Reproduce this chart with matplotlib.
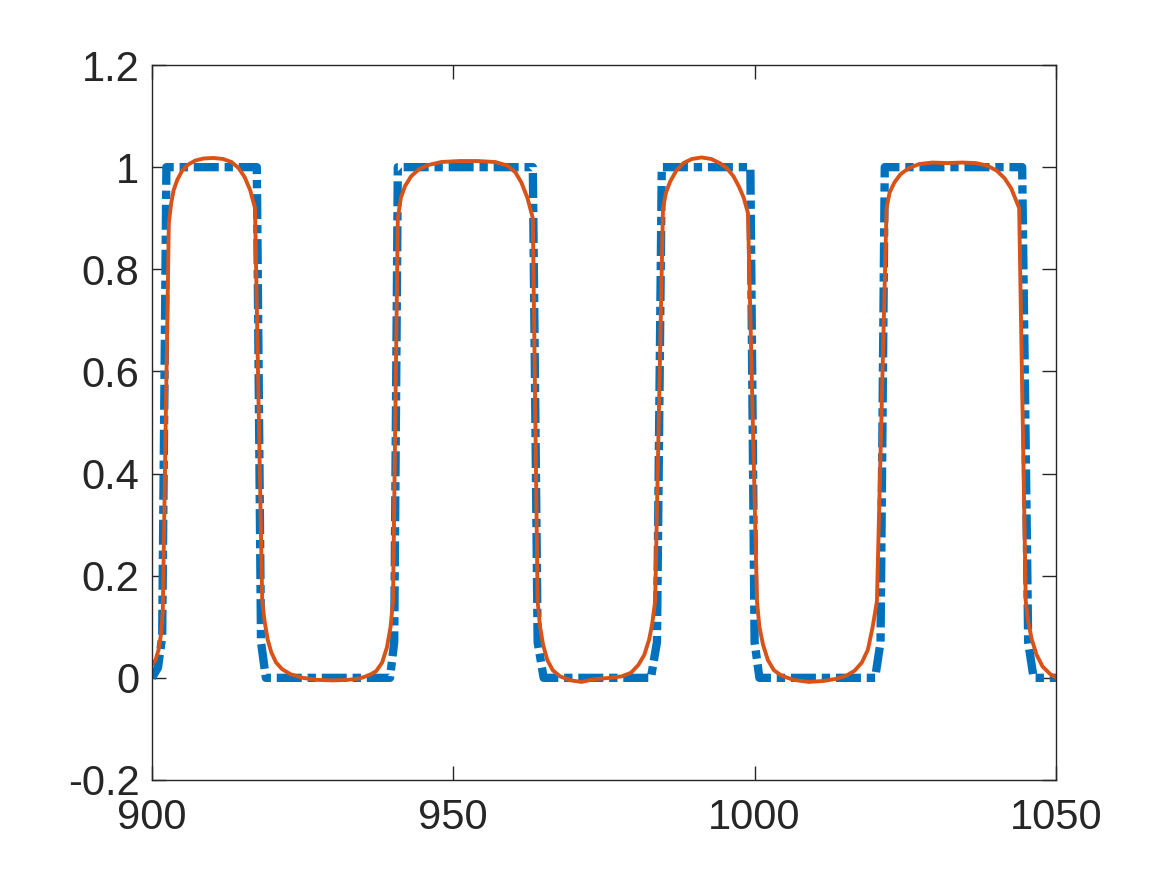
import matplotlib
matplotlib.use("Agg")
import matplotlib.pyplot as plt

# square-ish reference signal (blue, dash-dot)
x_ref = [900, 901, 901.7, 902.4, 917.4, 918.1, 918.9,
         939.5, 940.2, 940.8, 963.2, 964.0, 965.0,
         982.8, 983.8, 984.6, 999.3, 1000.0, 1000.8,
         1020.0, 1020.9, 1021.6, 1044.4, 1045.4, 1046.3, 1050]
y_ref = [0, 0.02, 0.08, 1, 1, 0.07, 0,
         0, 0.07, 1, 1, 0.07, 0,
         0, 0.07, 1, 1, 0.07, 0,
         0, 0.07, 1, 1, 0.07, 0, 0]

# smooth response (orange)
x_resp = [900, 900.6, 901.1, 901.5, 901.8,
          902.8, 903.2, 903.6, 904.2, 905.0, 906.0, 907.2, 908.6, 910.2, 911.8,
          913.2, 914.4, 915.4, 916.3, 917.1,
          918.3, 918.7, 919.2, 919.8, 920.6, 921.6, 923.0, 925.0, 927.5, 930.0,
          932.5, 934.5, 936.0, 937.2, 938.2, 939.0, 939.6, 940.0,
          940.8, 941.3, 942.0, 943.0, 944.2, 945.8, 948.0, 951.0, 954.0, 957.0,
          959.0, 960.3, 961.3, 962.3, 963.2,
          964.0, 964.4, 964.9, 965.6, 966.5, 967.7, 969.5, 971.3, 972.8, 974.0,
          976.0, 978.0, 979.5, 980.7, 981.7, 982.5, 983.0, 983.5,
          984.8, 985.3, 986.0, 987.0, 988.2, 989.6, 991.2, 992.8, 994.2, 995.4,
          996.5, 997.4, 998.2, 998.9,
          1000.4, 1000.8, 1001.4, 1002.2, 1003.2, 1004.5, 1006.5, 1009.0, 1011.5,
          1013.5, 1015.2, 1016.6, 1017.8, 1018.8, 1019.6, 1020.3,
          1021.9, 1022.4, 1023.2, 1024.2, 1025.6, 1027.3, 1029.5, 1032.0, 1034.5,
          1036.7, 1038.6, 1040.2, 1041.5, 1042.6, 1043.9,
          1045.0, 1045.4, 1046.0, 1046.8, 1047.8, 1049.0, 1050]
y_resp = [0.025, 0.035, 0.055, 0.085, 0.13,
          0.89, 0.93, 0.955, 0.975, 0.993, 1.005, 1.013, 1.017, 1.018, 1.016,
          1.01, 0.998, 0.98, 0.955, 0.92,
          0.15, 0.11, 0.075, 0.05, 0.03, 0.017, 0.007, 0.0, -0.004, -0.005,
          -0.004, -0.001, 0.005, 0.013, 0.03, 0.06, 0.1, 0.15,
          0.9, 0.94, 0.963, 0.982, 0.995, 1.004, 1.01, 1.012, 1.012, 1.01,
          1.003, 0.99, 0.97, 0.94, 0.9,
          0.15, 0.1, 0.065, 0.035, 0.015, 0.003, -0.005, -0.008, -0.004, -0.002,
          0.0, 0.003, 0.01, 0.025, 0.045, 0.075, 0.105, 0.15,
          0.92, 0.95, 0.972, 0.993, 1.008, 1.016, 1.019, 1.016, 1.008, 0.998,
          0.982, 0.962, 0.94, 0.91,
          0.15, 0.1, 0.065, 0.035, 0.015, 0.004, -0.004, -0.008, -0.006,
          -0.002, 0.004, 0.014, 0.03, 0.055, 0.1, 0.15,
          0.92, 0.95, 0.97, 0.986, 0.998, 1.006, 1.009, 1.008, 1.009,
          1.008, 1.003, 0.993, 0.978, 0.958, 0.92,
          0.15, 0.11, 0.075, 0.045, 0.022, 0.008, 0.0]

x_ticks = [900, 950, 1000, 1050]
y_ticks = [-0.2, 0, 0.2, 0.4, 0.6, 0.8, 1, 1.2]
y_labels = ["-0.2", "0", "0.2", "0.4", "0.6", "0.8", "1", "1.2"]

plt.rcParams['font.family'] = ['Liberation Sans', 'DejaVu Sans']
txt = '#262626'

fig = plt.figure(figsize=(11.67, 8.75), dpi=100)
ax = fig.add_axes([0.1302, 0.1086, 0.7746, 0.8171])

ax.plot(x_ref, y_ref, color='#0072BD', lw=6, ls=(0, (3.0, 0.7, 1.0, 0.7)),
        dash_joinstyle='round')
ax.plot(x_resp, y_resp, color='#D95319', lw=2.8, solid_joinstyle='round')

ax.set_xlim(900, 1050)
ax.set_ylim(-0.2, 1.2)
ax.set_xticks(x_ticks)
ax.set_xticklabels([str(v) for v in x_ticks])
ax.set_yticks(y_ticks)
ax.set_yticklabels(y_labels)

ax.tick_params(direction='in', length=10, width=1, colors=txt, labelsize=30,
               top=True, right=True)
ax.tick_params(axis='x', pad=13)
ax.tick_params(axis='y', pad=9)
for s in ax.spines.values():
    s.set_color(txt)
    s.set_linewidth(1)

fig.savefig('out.png', dpi=100, facecolor='white')
